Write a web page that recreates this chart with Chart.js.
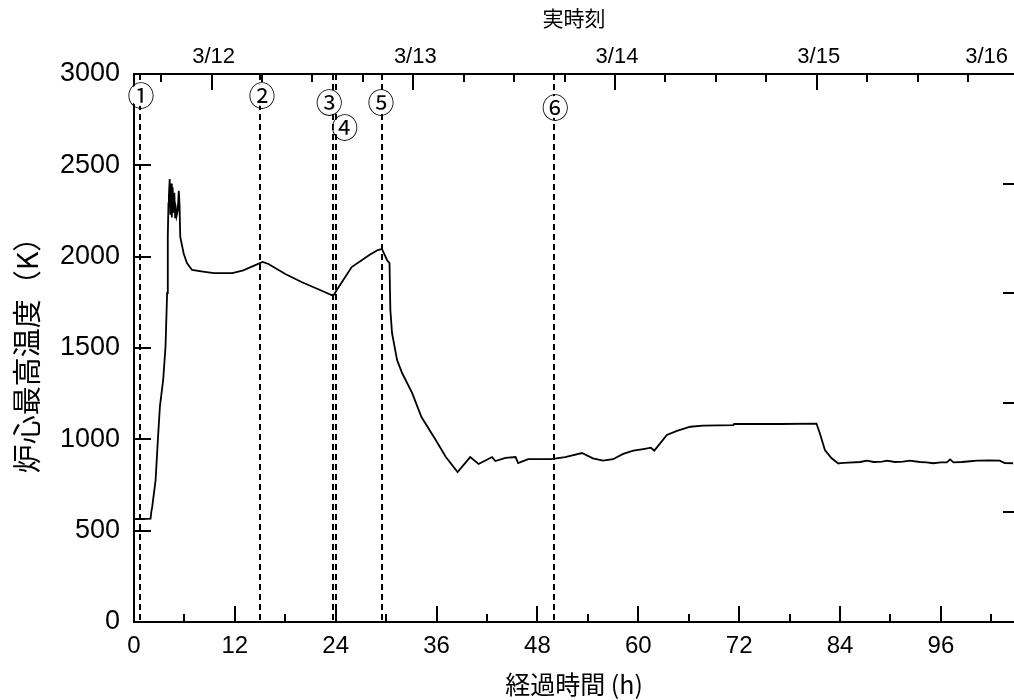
<!DOCTYPE html>
<html>
<head>
<meta charset="utf-8">
<script src="https://cdn.jsdelivr.net/npm/chart.js@4.4.0/dist/chart.umd.min.js"></script>
<style>
html, body { margin: 0; padding: 0; background: #fff; }
#wrap { width: 1014px; height: 700px; }
</style>
</head>
<body>
<div id="wrap"><canvas id="chart" width="1014" height="700"></canvas></div>
<script>
// ---- data ----
const hours = [
  0, 1.0, 1.97, 2.05, 2.17, 2.57, 2.84, 3.08, 3.47, 3.75, 3.94, 4.02, 4.1,
  4.15, 4.25, 4.33, 4.42, 4.5, 4.6, 4.7, 4.8, 4.9, 5.0, 5.1, 5.2, 5.33, 5.42,
  5.5, 5.9, 6.3, 6.9, 8.0, 9.5, 11.7, 13.0, 14.5, 15.3, 16.0, 18.0, 20.0, 22.0,
  23.7, 24.3, 25.9, 28.0, 29.0, 29.5, 30.1, 30.4, 30.5, 30.7, 31.3, 31.9, 33.1,
  34.2, 35.9, 37.1, 38.5, 40.0, 41.0, 42.6, 43.0, 44.2, 45.4, 45.7, 46.9, 49.6,
  51.3, 53.3, 54.6, 55.8, 57.0, 58.2, 59.4, 60.6, 61.5, 61.9, 62.6, 63.4, 64.6,
  66.2, 67.7, 71.3, 71.4, 76.9, 81.2, 81.6, 82.2, 83.0, 83.8, 84.0, 85.0, 86.4,
  87.2, 88.0, 89.0, 89.6, 90.5, 91.5, 92.3, 93.5, 94.3, 95.1, 96.0, 96.7, 97.1,
  97.5, 98.5, 99.5, 100.3, 101.8, 103.0, 103.6, 104.6
];
const coreTemp = [
  564, 564, 566, 600, 631, 777, 996, 1179, 1325, 1507, 1800, 2109, 2293,
  2330, 2425, 2230, 2400, 2215, 2380, 2240, 2350, 2210, 2260, 2230, 2250, 2360, 2280,
  2109, 2019, 1965, 1927, 1920, 1910, 1910, 1925, 1955, 1971, 1960, 1905, 1860, 1820,
  1785, 1830, 1943, 2009, 2036, 2042, 1982, 1965, 1708, 1582, 1434, 1363, 1253,
  1122, 996, 903, 821, 903, 865, 903, 881, 898, 903, 870, 892, 892,
  903, 925, 896, 883, 891, 920, 938, 947, 954, 938, 978, 1024, 1046,
  1069, 1075, 1078, 1084, 1084, 1086, 1033, 941, 896, 868, 870, 872, 876,
  883, 876, 878, 883, 876, 878, 883, 876, 874, 869, 874, 874, 890,
  874, 876, 880, 883, 885, 883, 870, 869
];

const eventHours  = [0.7, 15.0, 23.7, 24.0, 29.5, 50.0];
const eventLabels = ['①', '②', '③', '④', '⑤', '⑥'];

const dateLabels = ['3/12', '3/13', '3/14', '3/15', '3/16'];
const dateHours  = [9.23, 33.23, 57.23, 81.23, 105.23];
const topTicks   = [3.23, 9.23, 15.23, 21.23, 27.23, 33.23, 39.23, 45.23, 51.23, 57.23,
                    63.23, 69.23, 75.23, 81.23, 87.23, 93.23, 99.23];

const xTicks     = [0, 6, 12, 18, 24, 30, 36, 42, 48, 54, 60, 66, 72, 78, 84, 90, 96, 102];
const yTicks     = [0, 500, 1000, 1500, 2000, 2500, 3000];
const rightTicks = [600, 1200, 1800, 2400];

const X_MAX = 104.7;
const NUM_FONT = 'Liberation Sans, Arial, sans-serif';
const JP_FONT = '"Noto Sans CJK JP", sans-serif';

// label placement (px offsets from the line / chart top)
const eventLabelPos = [
  { dx: 1, dy: 21 }, { dx: 2, dy: 21 }, { dx: -4, dy: 28 },
  { dx: 9, dy: 53 }, { dx: -1, dy: 28 }, { dx: 1, dy: 33 }
];

function seg(ctx, x1, y1, x2, y2) {
  ctx.beginPath();
  ctx.moveTo(x1, y1);
  ctx.lineTo(x2, y2);
  ctx.stroke();
}

// dashed event lines under the curve
const eventLines = {
  id: 'eventLines',
  beforeDatasetsDraw(chart) {
    const ctx = chart.ctx, a = chart.chartArea, sx = chart.scales.x;
    ctx.save();
    ctx.strokeStyle = '#000';
    ctx.lineWidth = 2;
    ctx.setLineDash([6, 4]);
    eventHours.forEach(h => {
      const px = Math.round(sx.getPixelForValue(h));
      seg(ctx, px, a.top, px, a.bottom);
    });
    ctx.restore();
  },
  afterDraw(chart) {
    const ctx = chart.ctx, a = chart.chartArea, sx = chart.scales.x;
    ctx.save();
    ctx.font = '27px ' + JP_FONT;
    ctx.textAlign = 'center';
    ctx.textBaseline = 'middle';
    eventHours.forEach((h, i) => {
      const p = eventLabelPos[i];
      const cx = sx.getPixelForValue(h) + p.dx;
      const cy = a.top + p.dy;
      ctx.fillStyle = '#fff';
      ctx.beginPath();
      ctx.arc(cx, cy, 11, 0, Math.PI * 2);
      ctx.fill();
      ctx.fillStyle = '#000';
      ctx.fillText(eventLabels[i], cx, cy + 1);
    });
    ctx.restore();
  }
};

// inward tick marks and top date labels
const inwardTicks = {
  id: 'inwardTicks',
  afterDraw(chart) {
    const ctx = chart.ctx, a = chart.chartArea;
    const sx = chart.scales.x, sx2 = chart.scales.x2;
    const sy = chart.scales.y, sy2 = chart.scales.y2;
    ctx.save();
    ctx.strokeStyle = '#000';
    ctx.lineWidth = 2;
    sx.ticks.forEach(t => {
      const px = Math.round(sx.getPixelForValue(t.value));
      seg(ctx, px, a.bottom, px, a.bottom - (t.value % 12 === 0 ? 16 : 8));
    });
    sx2.ticks.forEach(t => {
      const px = Math.round(sx2.getPixelForValue(t.value));
      const major = dateHours.indexOf(t.value) >= 0;
      seg(ctx, px, a.top, px, a.top + (major ? 16 : 8));
    });
    sy.ticks.forEach(t => {
      const py = Math.round(sy.getPixelForValue(t.value));
      seg(ctx, a.left, py, a.left + 17, py);
    });
    sy2.ticks.forEach(t => {
      const py = Math.round(sy2.getPixelForValue(t.value));
      seg(ctx, a.right - 11, py, a.right, py);
    });
    // date labels on top axis
    ctx.fillStyle = '#000';
    ctx.font = '22px ' + NUM_FONT;
    ctx.textAlign = 'center';
    ctx.textBaseline = 'middle';
    dateLabels.forEach((lab, i) => {
      let cx = sx2.getPixelForValue(dateHours[i]) + 2;
      const w = ctx.measureText(lab).width;
      if (cx + w / 2 > a.right - 6) cx = a.right - 6 - w / 2;
      ctx.fillText(lab, cx, a.top - 17);
    });
    ctx.restore();
  }
};

const ctx = document.getElementById('chart').getContext('2d');
new Chart(ctx, {
  type: 'line',
  data: {
    datasets: [{
      data: hours.map((h, i) => ({ x: h, y: coreTemp[i] })),
      borderColor: '#000',
      borderWidth: 1.8,
      pointRadius: 0,
      tension: 0,
      fill: false
    }]
  },
  options: {
    responsive: false,
    animation: false,
    devicePixelRatio: 1,
    layout: { padding: 0 },
    plugins: { legend: { display: false }, tooltip: { enabled: false } },
    scales: {
      x: {
        type: 'linear', position: 'bottom', min: 0, max: X_MAX,
        afterBuildTicks: s => { s.ticks = xTicks.map(v => ({ value: v })); },
        afterFit: s => { s.height = 78; },
        grid: { display: false, drawTicks: false },
        border: { display: true, color: '#000', width: 2 },
        ticks: {
          color: '#000', padding: 10, maxRotation: 0, autoSkip: false,
          font: { family: NUM_FONT, size: 24 },
          callback: v => (v % 12 === 0 ? String(v) : '')
        },
        title: {
          display: true, text: '経過時間 (h)', color: '#000',
          font: { family: JP_FONT, size: 25 }, padding: { top: 0, bottom: 1 }
        }
      },
      x2: {
        type: 'linear', position: 'top', min: 0, max: X_MAX,
        afterBuildTicks: s => { s.ticks = topTicks.map(v => ({ value: v })); },
        afterFit: s => { s.height = 74; },
        grid: { display: false, drawTicks: false },
        border: { display: true, color: '#000', width: 2 },
        ticks: { display: false },
        title: {
          display: true, text: '実時刻', color: '#000',
          font: { family: JP_FONT, size: 21 }, padding: { top: 5, bottom: 0 }
        }
      },
      y: {
        type: 'linear', position: 'left', min: 0, max: 3000,
        afterBuildTicks: s => { s.ticks = yTicks.map(v => ({ value: v })); },
        afterFit: s => { s.width = 134; },
        grid: { display: false, drawTicks: false },
        border: { display: true, color: '#000', width: 2 },
        ticks: {
          color: '#000', padding: 14, font: { family: NUM_FONT, size: 27 },
          callback: v => String(v)
        },
        title: {
          display: true, text: '炉心最高温度（K）', color: '#000',
          font: { family: JP_FONT, size: 29 }, padding: { top: 10, bottom: 0 }
        }
      },
      y2: {
        type: 'linear', position: 'right', min: 0, max: 3000,
        afterBuildTicks: s => { s.ticks = rightTicks.map(v => ({ value: v })); },
        afterFit: s => { s.width = 0; },
        grid: { display: false, drawTicks: false },
        border: { display: false },
        ticks: { display: false }
      }
    }
  },
  plugins: [eventLines, inwardTicks]
});
</script>
</body>
</html>
